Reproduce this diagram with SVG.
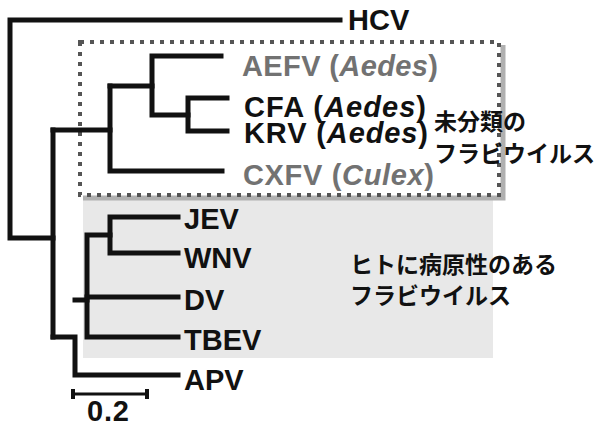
<svg xmlns="http://www.w3.org/2000/svg" width="596" height="426" viewBox="0 0 596 426">
<style>
.br{fill:none;stroke:#111;stroke-width:5;stroke-linecap:square;stroke-linejoin:miter}
.lb{font-family:"Liberation Sans",Arial,sans-serif;font-weight:bold;font-size:29px;fill:#111}
.gr{fill:#727272}
.it{font-style:italic}
.jp{font-family:"Noto Sans CJK JP","Noto Sans",sans-serif;font-size:23px;fill:#111}
</style>
<rect id="human-region" x="83" y="196" width="410" height="162" fill="#e8e8e8"/>
<g id="unclassified-box">
<path d="M83 198H503V45" fill="none" stroke="#b0b0b0" stroke-width="5"/>
<rect x="80" y="42" width="419" height="153" fill="none" stroke="#555" stroke-width="4" stroke-dasharray="4 6"/>
</g>
<g id="connectors">
<path class="br" d="M340 20H10V238H53"/>
<path class="br" d="M53 130V337"/>
<path class="br" d="M53 130H110"/>
<path class="br" d="M110 86V171H222"/>
<path class="br" d="M110 86H152"/>
<path class="br" d="M221 56H152V115H188"/>
<path class="br" d="M227 98H188V131H227"/>
<path class="br" d="M53 337H75V375H178"/>
<path class="br" d="M75 300H87"/>
<path class="br" d="M110 235H87V337H178"/>
<path class="br" d="M87 297H178"/>
<path class="br" d="M178 217H110V253H178"/>
<path d="M73 394H147" stroke="#111" stroke-width="3"/>
<path d="M73 389V399M147 389V399" stroke="#111" stroke-width="4"/>
</g>
<g id="HCV"><text class="lb" x="348" y="30">HCV</text></g>
<g id="AEFV"><text class="lb gr" x="242" y="76" textLength="196">AEFV (<tspan class="it">Aedes</tspan>)</text></g>
<g id="CFA"><text class="lb" x="244" y="117" font-size="28" textLength="182">CFA (<tspan class="it">Aedes</tspan>)</text></g>
<g id="KRV"><text class="lb" x="244" y="143" font-size="28" textLength="184">KRV (<tspan class="it">Aedes</tspan>)</text></g>
<g id="CXFV"><text class="lb gr" x="243" y="185" textLength="191">CXFV (<tspan class="it">Culex</tspan>)</text></g>
<g id="JEV"><text class="lb" x="184" y="229">JEV</text></g>
<g id="WNV"><text class="lb" x="184" y="268">WNV</text></g>
<g id="DV"><text class="lb" x="184" y="310">DV</text></g>
<g id="TBEV"><text class="lb" x="184" y="350">TBEV</text></g>
<g id="APV"><text class="lb" x="184" y="390">APV</text></g>
<g id="scale"><text class="lb" x="87" y="421" font-size="26" textLength="42">0.2</text></g>
<g id="label-unclassified">
<text class="jp" x="434" y="130" font-weight="bold">未分類の</text>
<text class="jp" x="434" y="162" font-weight="bold">フラビウイルス</text>
</g>
<g id="label-human">
<text class="jp" x="350" y="273" font-weight="bold">ヒトに病原性のある</text>
<text class="jp" x="350" y="304" font-weight="bold">フラビウイルス</text>
</g>
</svg>
